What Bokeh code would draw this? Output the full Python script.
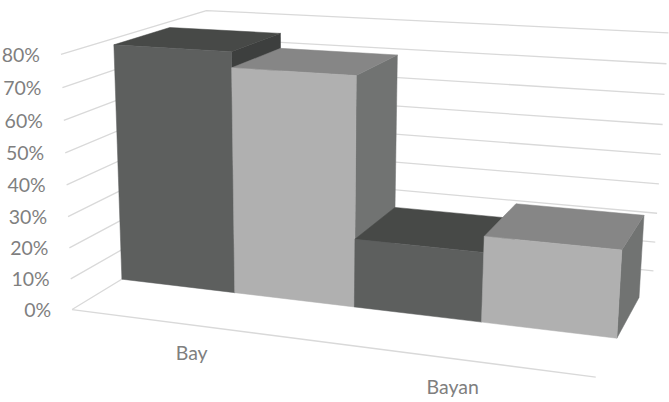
import numpy as np
from bokeh.plotting import figure
from bokeh.embed import file_html
from bokeh.resources import INLINE
from bokeh.core.properties import value

categories = ["Bay", "Bayan"]
series_dark = [0.78, 0.22]
series_light = [0.73, 0.27]
tick_values = [0, 10, 20, 30, 40, 50, 60, 70, 80]
tick_labels = ["0%", "10%", "20%", "30%", "40%", "50%", "60%", "70%", "80%"]
axis_max = 0.8

DEPTH_FRONT, DEPTH_BACK = 0.32, 0.71

# camera fitted to the chart box and its perspective
box_model = [(0,0,0),(1,0,0),(0,1,0),(1,1,0),(0,0,1),(0,1,1),(1,1,1),
             (0,.32,.975),(1,.32,.3375),(.5,.32,.9125),(.5,.32,0),(1,.32,0),(0,.32,0),(1,.71,.3375),(.5,.71,.9125)]
box_image = [(74,308),(597,377),(206,226),(654,268),(59,53),(210,10),(668,33),
             (112,44),(620,250),(354,76),(354,307),(616,338),(122.3,279),(643,215),(397,54)]
rows = []
for (X,Y,Z),(u,v) in zip(box_model, box_image):
    P4=[X,Y,Z,1]
    rows.append(P4+[0,0,0,0]+[-u*c for c in P4])
    rows.append([0,0,0,0]+P4+[-v*c for c in P4])
_,_,vt = np.linalg.svd(np.array(rows,float))
CAM = vt[-1].reshape(3,4)

def proj(x,d,z):
    h = CAM @ np.array([x,d,z,1.0])
    return h[0]/h[2], h[1]/h[2]

def face(pts):
    q=[proj(*a) for a in pts]
    return [a[0] for a in q],[a[1] for a in q]

p = figure(width=669,height=402,x_range=(0,669),y_range=(402,0),output_backend="svg",
           toolbar_location=None,min_border=0,outline_line_color=None,
           background_fill_color="white",border_fill_color="white")
p.axis.visible=False
p.grid.visible=False

GRID="#d9d9d9"
xs,ys=[],[]
for t in tick_values:
    z=t/100/axis_max
    a,b=face([(0,0,z),(0,1,z),(1,1,z)])
    xs.append(a);ys.append(b)
a,b=face([(0,0,0),(1,0,0)])
xs.append(a);ys.append(b)
p.multi_line(xs,ys,line_color=GRID,line_width=1.3)

def bar(x0,x1,val,front,top,side):
    z=val/axis_max
    d0,d1=DEPTH_FRONT,DEPTH_BACK
    for pts,c in [([(x1,d0,0),(x1,d1,0),(x1,d1,z),(x1,d0,z)],side),
                  ([(x0,d0,z),(x1,d0,z),(x1,d1,z),(x0,d1,z)],top),
                  ([(x0,d0,0),(x1,d0,0),(x1,d0,z),(x0,d0,z)],front)]:
        a,b=face(pts)
        p.patch(a,b,fill_color=c,line_color=c,line_width=0.5)

n=len(categories)
w=1/(2*n)
for i in range(n):
    bar(2*i*w,(2*i+1)*w,series_dark[i],"#5d5f5e","#474947","#3d3f3e")
    bar((2*i+1)*w,(2*i+2)*w,series_light[i],"#b0b0b0","#868686","#717372")

TXT="#7f7f7f"
tx=[proj(0,0,t/100/axis_max)[0] for t in tick_values]
ty=[proj(0,0,t/100/axis_max)[1] for t in tick_values]
p.text(tx,ty,text=tick_labels,text_font=value("Lato"),text_font_size="19.5px",text_color=TXT,
       text_align="right",text_baseline="middle",x_offset=-21,y_offset=0)
cx=[proj((i+0.5)/n,0,0)[0] for i in range(n)]
cy=[proj((i+0.5)/n,0,0)[1] for i in range(n)]
p.text(cx,cy,text=categories,text_font=value("Lato"),text_font_size="19.5px",text_color=TXT,
       text_align="center",text_baseline="middle",x_offset=1,y_offset=28)

open("out.html","w").write(file_html(p,INLINE))
